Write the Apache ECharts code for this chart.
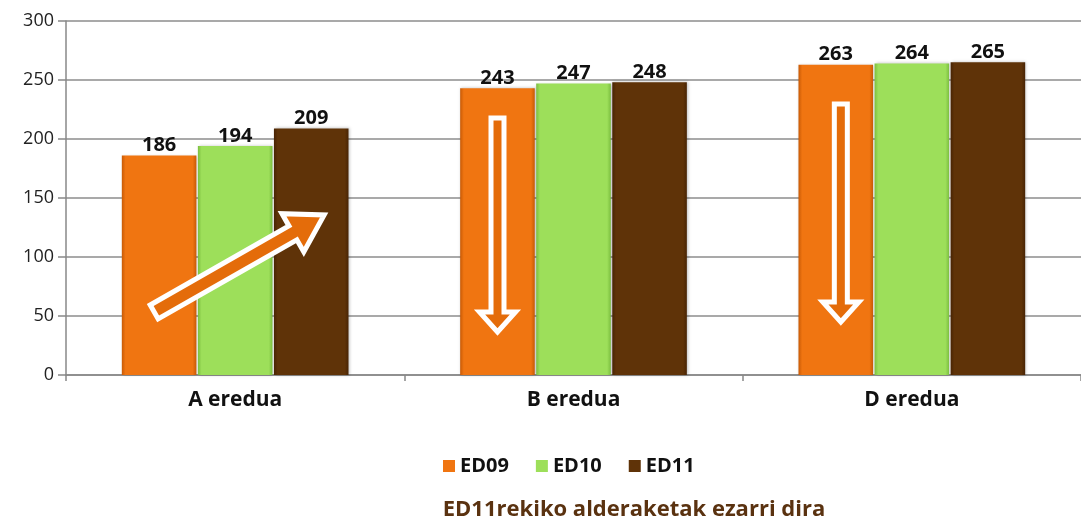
<!DOCTYPE html>
<html>
<head>
<meta charset="utf-8">
<script src="https://cdn.jsdelivr.net/npm/echarts@6/dist/echarts.min.js"></script>
<style>
  html, body { margin: 0; padding: 0; background: #fff; }
  #chart { width: 1081px; height: 521px; }
</style>
</head>
<body>
<div id="chart"></div>
<script>
var categories = ['A eredua', 'B eredua', 'D eredua'];
var seriesNames = ['ED09', 'ED10', 'ED11'];
var ed09 = [186, 243, 263];
var ed10 = [194, 247, 264];
var ed11 = [209, 248, 265];
var yTicks = [0, 50, 100, 150, 200, 250, 300];

var font = 'Open Sans';
var colors = ['#f07511', '#9ddf5a', '#5f3308'];

function bevel(c, dark) {
  return {
    type: 'linear', x: 0, y: 0, x2: 1, y2: 0,
    colorStops: [
      { offset: 0, color: dark },
      { offset: 0.05, color: c },
      { offset: 0.95, color: c },
      { offset: 1, color: dark }
    ]
  };
}
var fills = [
  bevel(colors[0], '#c85a06'),
  bevel(colors[1], '#7cbf40'),
  bevel(colors[2], '#482404')
];

function makeSeries(name, data, i) {
  return {
    name: name,
    type: 'bar',
    data: data,
    barGap: '2%',
    barCategoryGap: '33%',
    itemStyle: { color: fills[i],
      shadowColor: 'rgba(0,0,0,0.25)', shadowBlur: 3, shadowOffsetX: 1 },
    label: {
      show: true, position: 'top', distance: 0,
      color: '#111', fontFamily: font, fontWeight: 'bold', fontSize: 20
    }
  };
}

var chart = echarts.init(document.getElementById('chart'));
chart.setOption({
  animation: false,
  grid: { left: 66, right: -5, top: 21, bottom: 146 },
  title: {
    text: 'ED11rekiko alderaketak ezarri dira',
    left: 629, top: 494, textAlign: 'center',
    textStyle: { color: '#5a3210', fontFamily: font, fontWeight: 'bold', fontSize: 22 }
  },
  legend: {
    data: seriesNames.map(function (n, i) {
      return { name: n, itemStyle: { color: colors[i] } };
    }),
    left: 438, top: 451,
    itemWidth: 12, itemHeight: 12, itemGap: 27,
    icon: 'rect',
    textStyle: { color: '#111', fontFamily: font, fontWeight: 'bold', fontSize: 20 }
  },
  xAxis: {
    type: 'category',
    data: categories,
    axisLine: { lineStyle: { color: '#888', width: 1.5 } },
    axisTick: { show: true, length: 6, lineStyle: { color: '#888', width: 1.5 } },
    axisLabel: { color: '#111', fontFamily: font, fontWeight: 'bold', fontSize: 21, margin: 15 }
  },
  yAxis: {
    type: 'value',
    min: yTicks[0], max: yTicks[yTicks.length - 1], interval: 50,
    axisLine: { show: true, lineStyle: { color: '#888', width: 1.5 } },
    axisTick: { show: true, length: 8, lineStyle: { color: '#888', width: 1.5 } },
    splitLine: { lineStyle: { color: '#8c8c8c', width: 1.5 } },
    axisLabel: { color: '#222', fontFamily: font, fontSize: 18, margin: 12 }
  },
  series: [
    makeSeries(seriesNames[0], ed09, 0),
    makeSeries(seriesNames[1], ed10, 1),
    makeSeries(seriesNames[2], ed11, 2)
  ]
});

// annotation arrows (outlined, orange fill)
function arrowPoints(x1, y1, x2, y2, shaft, head, headLen) {
  var dx = x2 - x1, dy = y2 - y1;
  var len = Math.sqrt(dx * dx + dy * dy);
  var ux = dx / len, uy = dy / len;
  var px = -uy, py = ux;
  var bx = x2 - ux * headLen, by = y2 - uy * headLen;
  var s = shaft / 2, h = head / 2;
  return [
    [x1 + px * s, y1 + py * s],
    [bx + px * s, by + py * s],
    [bx + px * h, by + py * h],
    [x2, y2],
    [bx - px * h, by - py * h],
    [bx - px * s, by - py * s],
    [x1 - px * s, y1 - py * s]
  ];
}
function arrow(pts) {
  return {
    type: 'polygon', z: 100,
    shape: { points: pts },
    style: { fill: '#e46c0a', stroke: '#fff', lineWidth: 5, lineJoin: 'miter' }
  };
}
var cA = chart.convertToPixel({ gridIndex: 0 }, [0, 0]);
var cB = chart.convertToPixel({ gridIndex: 0 }, [1, 0]);
var cD = chart.convertToPixel({ gridIndex: 0 }, [2, 0]);
chart.setOption({
  graphic: [
    arrow(arrowPoints(cA[0] - 81, 312, cA[0] + 89, 215, 16, 44, 36)),
    arrow(arrowPoints(cB[0] - 76, 118, cB[0] - 76, 332, 13, 36, 20)),
    arrow(arrowPoints(cD[0] - 71, 104, cD[0] - 71, 322, 13, 36, 20))
  ]
});
</script>
</body>
</html>
